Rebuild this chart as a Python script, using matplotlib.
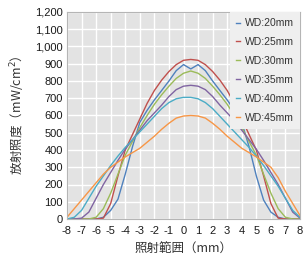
import matplotlib.pyplot as plt
import numpy as np

plt.rcParams['font.family'] = ['Liberation Sans', 'Noto Sans CJK JP', 'DejaVu Sans']
plt.rcParams['axes.unicode_minus'] = False

x = np.arange(-8, 8.01, 0.5)

wd20 = [0, 0, 0, 0, 0, 10, 50, 115, 260, 420, 560, 630, 690, 745, 800, 860, 895,
        870, 895, 860, 800, 745, 690, 630, 560, 420, 250, 110, 40, 10, 0, 0, 0]
wd25 = [0, 0, 0, 0, 0, 5, 90, 250, 400, 490, 580, 670, 745, 805, 855, 895, 920,
        925, 920, 895, 855, 805, 745, 670, 580, 490, 400, 250, 90, 5, 0, 0, 0]
wd30 = [0, 0, 0, 0, 10, 60, 150, 260, 370, 450, 530, 600, 665, 720, 770, 815, 845,
        858, 845, 815, 770, 720, 665, 600, 530, 450, 370, 260, 150, 60, 10, 0, 0]
wd35 = [0, 0, 5, 40, 120, 200, 270, 340, 405, 460, 515, 570, 615, 660, 710, 750, 770,
        775, 770, 750, 710, 660, 615, 570, 515, 460, 405, 340, 270, 200, 120, 40, 5]
wd40 = [0, 10, 50, 120, 190, 250, 310, 365, 415, 460, 505, 550, 595, 640, 675, 697, 705,
        705, 697, 675, 640, 595, 550, 505, 460, 415, 365, 310, 250, 190, 120, 50, 10]
wd45 = [10, 60, 110, 160, 210, 260, 300, 330, 360, 385, 410, 445, 480, 520, 555, 585, 597,
        600, 597, 585, 555, 520, 480, 445, 410, 385, 360, 330, 300, 240, 160, 90, 20]

series = [wd20, wd25, wd30, wd35, wd40, wd45]
labels = ['WD:20mm', 'WD:25mm', 'WD:30mm', 'WD:35mm', 'WD:40mm', 'WD:45mm']
colors = ['#4f81bd', '#c0504d', '#9bbb59', '#8064a2', '#4bacc6', '#f79646']

fig = plt.figure(figsize=(3.03, 2.58), dpi=100)
ax = fig.add_axes([67/303, 1 - 219/258, 233/303, 207/258])
ax.set_facecolor('#e3e3e3')

for y, lab, c in zip(series, labels, colors):
    ax.plot(x, y, color=c, lw=1.0, label=lab)

ax.set_xlim(-8, 8)
ax.set_ylim(0, 1200)
ax.set_xticks(range(-8, 9))
ax.set_yticks(range(0, 1201, 100))
ax.set_yticklabels([f'{v:,}' for v in range(0, 1201, 100)])
ax.grid(color='white', lw=1.0)
ax.set_axisbelow(True)
ax.tick_params(length=0, labelsize=8, colors='#1a1a1a', pad=3)
ax.tick_params(axis='x', pad=5)
for s in ax.spines.values():
    s.set_color('#b5b5b5')
    s.set_linewidth(0.8)

ax.set_xlabel('照射範囲（mm）', fontsize=9, family=['Noto Sans CJK JP'], color='#333333', labelpad=5)
ax.set_ylabel('放射照度（mW/cm$^2$）', fontsize=9, family=['Noto Sans CJK JP'], color='#333333', labelpad=6)

leg = ax.legend(loc='upper right', handlelength=0.35, handletextpad=0.45,
                labelspacing=0.85, borderpad=0.6, frameon=True, fancybox=False,
                borderaxespad=0, prop={'family': ['Liberation Sans'], 'size': 7.5})
leg.get_frame().set_facecolor('#efefef')
leg.get_frame().set_edgecolor('none')
leg.get_frame().set_alpha(1)
for t in leg.get_texts():
    t.set_color('#333333')

fig.savefig('out.png', dpi=100)
